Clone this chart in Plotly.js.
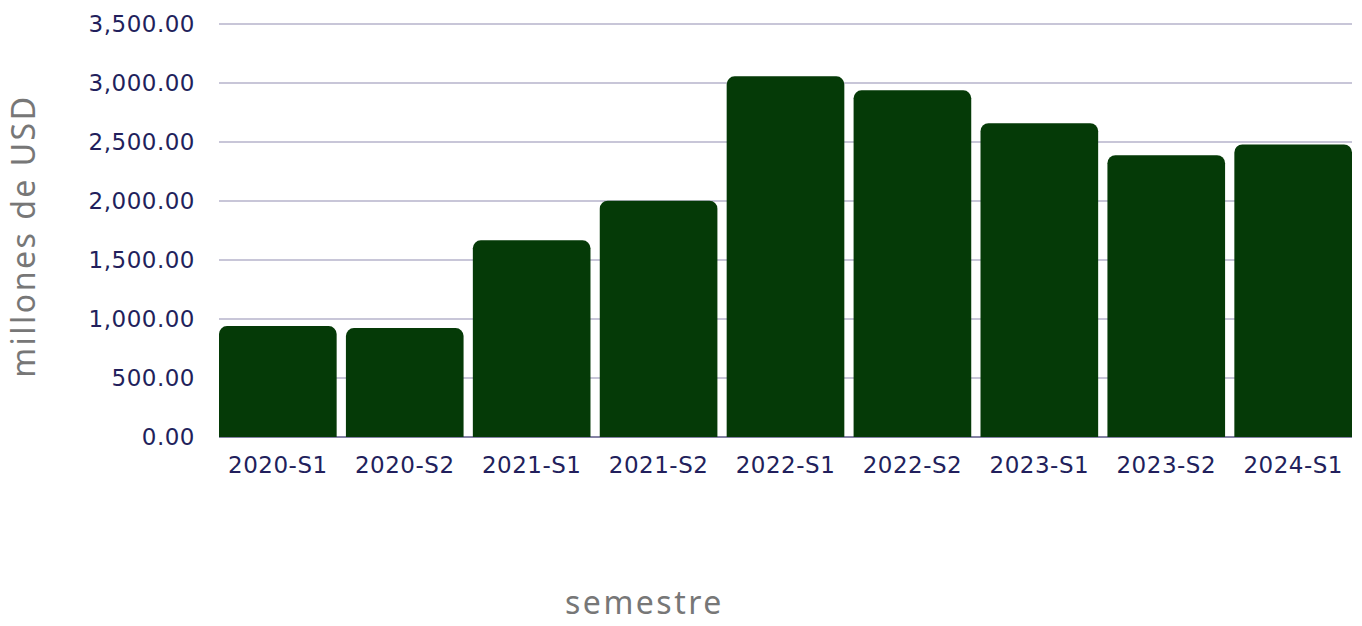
<!DOCTYPE html>
<html>
<head>
<meta charset="utf-8">
<script src="https://cdn.plot.ly/plotly-3.0.1.min.js"></script>
<style>
html,body{margin:0;padding:0;background:#fff;}
#chart{width:1362px;height:626px;}
.xtick text, .ytick text {letter-spacing: 0.5px;}
.annotation-text {letter-spacing: 2.5px;}
</style>
</head>
<body>
<div id="chart"></div>
<script>
var semestres = ["2020-S1","2020-S2","2021-S1","2021-S2","2022-S1","2022-S2","2023-S1","2023-S2","2024-S1"];
var valores = [939, 922, 1665, 2000, 3053, 2935, 2656, 2386, 2476];
var yTitulo = "millones de USD";
var xTitulo = "semestre";

var gap = 0.073;
var plotL = 219, plotR = 1352, plotT = 19.8, plotB = 437.5;
var plotH = plotB - plotT;
var tickFont = "DejaVu Sans, sans-serif";
var titleFont = "Noto Sans, sans-serif";

var trace = {
  type: "bar",
  x: semestres,
  y: valores,
  marker: {color: "#053a07", cornerradius: 8, line: {width: 0}},
  hovertemplate: "%{x}: %{y:,.2f}<extra></extra>"
};

var layout = {
  width: 1362,
  height: 626,
  margin: {l: plotL, r: 1362 - plotR, t: plotT, b: 626 - plotB},
  paper_bgcolor: "#ffffff",
  plot_bgcolor: "#ffffff",
  bargap: gap,
  font: {family: tickFont, color: "#221f5c"},
  showlegend: false,
  xaxis: {
    type: "category",
    range: [-0.5 + gap / 2, semestres.length - 0.5 - gap / 2],
    tickfont: {size: 23, color: "#221f5c", family: tickFont},
    showgrid: false,
    showline: false,
    ticks: "",
    ticklabelstandoff: 12,
    automargin: false
  },
  yaxis: {
    range: [0, 3530],
    dtick: 500,
    tick0: 0,
    tickformat: ",.2f",
    tickfont: {size: 23, color: "#221f5c", family: tickFont},
    gridcolor: "#c8c6d8",
    gridwidth: 2,
    zeroline: true,
    zerolinecolor: "#8482a4",
    zerolinewidth: 2,
    ticks: "",
    ticklabelstandoff: 23,
    automargin: false
  },
  annotations: [
    {
      text: xTitulo,
      xref: "paper", yref: "paper",
      x: (644 - plotL) / (plotR - plotL), y: (plotB - 626) / plotH,
      xanchor: "center", yanchor: "bottom",
      showarrow: false,
      font: {size: 32, color: "#777777", family: titleFont}
    },
    {
      text: yTitulo,
      textangle: -90,
      xref: "paper", yref: "paper",
      x: (23 - plotL) / (plotR - plotL), y: (plotB - 237) / plotH,
      xanchor: "center", yanchor: "middle",
      showarrow: false,
      font: {size: 32, color: "#777777", family: titleFont}
    }
  ]
};

Plotly.newPlot("chart", [trace], layout, {displayModeBar: false, staticPlot: true});
</script>
</body>
</html>
